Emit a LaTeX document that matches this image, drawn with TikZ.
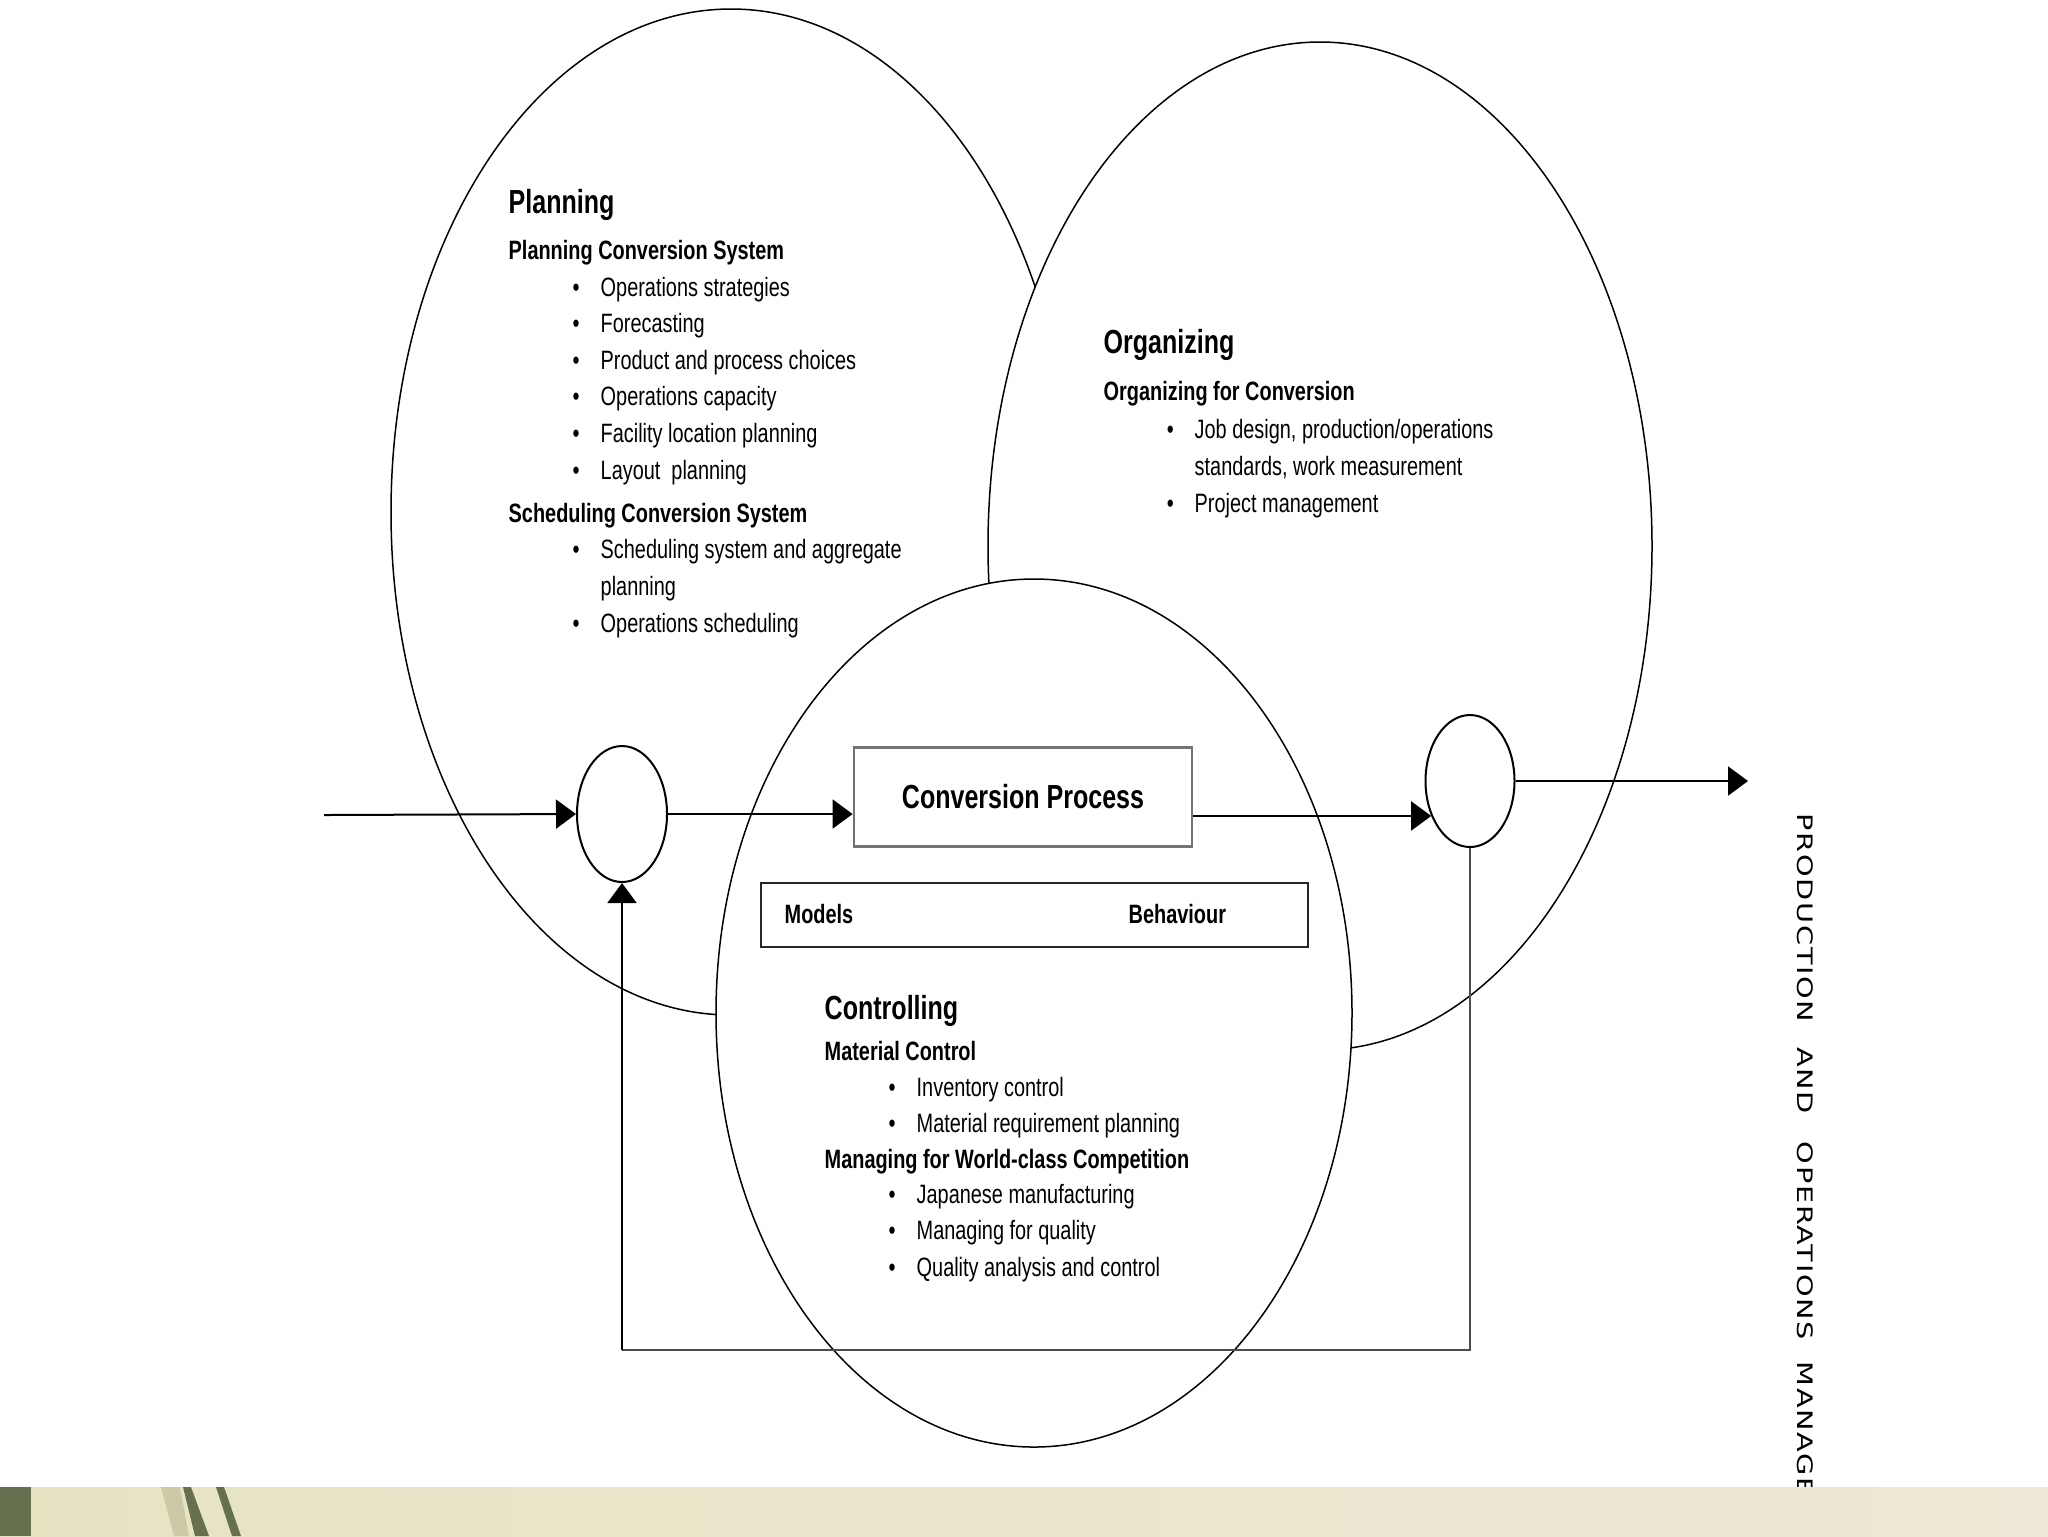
\documentclass[tikz,border=0pt]{standalone}
\usepackage{fontspec}
\setmainfont[FakeStretch=0.75]{Liberation Sans}
\newfontfamily\sidefont[FakeStretch=1.35,LetterSpace=8]{DejaVu Sans}
\usepackage{tikz}
\usetikzlibrary{arrows.meta}
\usetikzlibrary{shapes.geometric}
\usetikzlibrary{positioning}
\usetikzlibrary{calc}

\definecolor{bandleft}{HTML}{E6E3C3}
\definecolor{bandright}{HTML}{EEE9D6}
\definecolor{bandgreen}{HTML}{66704F}
\definecolor{bandpale}{HTML}{CCCAA6}

\newcommand{\bul}{\llap{\textbullet\hspace{2.1mm}}}

\begin{document}
\begin{tikzpicture}[x=0.1mm, y=-0.1mm,
      venn/.style ={draw=black, line width=0.15mm, fill=white},
      head/.style ={anchor=base west, inner sep=0, font=\fontsize{9.5pt}{11pt}\selectfont\bfseries},
      subhead/.style ={anchor=base west, inner sep=0, font=\fontsize{7.55pt}{10pt}\selectfont\bfseries},
      entry/.style ={anchor=base west, inner sep=0, font=\fontsize{7.55pt}{10pt}\selectfont},
      junction/.style ={ellipse, draw, line width=0.2mm, fill=white, inner sep=0},
      procbox/.style ={rectangle, draw=black!55, line width=0.28mm, fill=white, inner sep=0},
      flow/.style ={-{Triangle[length=2mm,width=2.9mm]}, line width=0.2mm},
      fback/.style ={draw=black!70, line width=0.17mm},
      sidetitle/.style ={rotate=-90, anchor=base west, inner sep=0, font=\sidefont\fontsize{6.06pt}{7pt}\selectfont}
    ]
    \useasboundingbox (0,0) rectangle (2048,1536);
    \fill[white] (0,0) rectangle (2048,1536);

    % the three areas
    \draw[venn] (731,512) ellipse [x radius=340, y radius=503];
    \draw[venn] (1320,546) ellipse [x radius=332, y radius=504];
    \draw[venn] (1034,1013) ellipse [x radius=318, y radius=434];

    % planning
    \node[head] (plan) at (508,213) {Planning};
    \node[subhead] (planconv) at (508,259) {Planning Conversion System};
    \foreach \y/\t [count=\i] in {296/Operations strategies, 332/Forecasting, 369/Product and process choices,
        405/Operations capacity, 442/Facility location planning, 479/{Layout\ \ planning}}
      \node[entry] (plan\i) at (600,\y) {\bul\t};
    \node[subhead] (schedconv) at (508,522) {Scheduling Conversion System};
    \node[entry] (sched1) at (600,558) {\bul Scheduling system and aggregate};
    \node[entry] (sched1b) at (600,595) {planning};
    \node[entry] (sched2) at (600,632) {\bul Operations scheduling};

    % organizing
    \node[head] (org) at (1103,353) {Organizing};
    \node[subhead] (orgconv) at (1103,400) {Organizing for Conversion};
    \node[entry] (org1) at (1194,438) {\bul Job design, production/operations};
    \node[entry] (org1b) at (1194,475) {standards, work measurement};
    \node[entry] (org2) at (1194,512) {\bul Project management};

    % controlling
    \node[head] (ctrl) at (824,1019) {Controlling};
    \node[subhead] (matctrl) at (824,1060) {Material Control};
    \node[entry] (mat1) at (916,1096) {\bul Inventory control};
    \node[entry] (mat2) at (916,1132) {\bul Material requirement planning};
    \node[subhead] (world) at (824,1168) {Managing for World-class Competition};
    \foreach \y/\t [count=\i] in {1203/Japanese manufacturing, 1239/Managing for quality, 1276/Quality analysis and control}
      \node[entry] (world\i) at (916,\y) {\bul\t};

    % conversion flow
    \node[junction, minimum width=9mm, minimum height=13.6mm] (sumL) at (622,814) {};
    \node[junction, minimum width=8.9mm, minimum height=13.2mm] (sumR) at (1470,781) {};
    \node[procbox, minimum width=33.8mm, minimum height=9.9mm, font=\fontsize{9.5pt}{11pt}\selectfont\bfseries] (conv) at (1023,797) {Conversion Process};
    \node[procbox, draw=black!85, minimum width=54.7mm, minimum height=6.4mm] (mb) at (1034.5,915) {};
    \node[subhead] (models) at (784,923) {Models};
    \node[subhead] (behav) at (1128,923) {Behaviour};

    \coordinate (in) at (324,815);
    \coordinate (out) at (1748,781);
    \coordinate (base) at (0,1350);
    \draw[flow] (in) -- (sumL.west);
    \draw[flow] (sumL.east) -- (sumL.east -| conv.west);
    \draw[flow] (conv.east |- sumR.222) -- (sumR.222);
    \draw[flow] (sumR.east) -- (sumR.east -| out);
    \draw[fback] (sumR.south) -- (sumR.south |- base) -- (sumL.south |- base);
    \draw[flow] (sumL.south |- base) -- (sumL.south);

    % slide title and footer band
    \node[sidetitle] (title) at (1797,813) {PRODUCTION\hspace{1.4mm} AND\hspace{1.7mm} OPERATIONS\hspace{1.1mm} MANAGE};
    \shade[left color=bandleft, right color=bandright] (0,1487) rectangle (2048,1536);
    \fill[bandgreen] (0,1487) rectangle (31,1536);
    \fill[bandpale] (161,1487) -- (180,1487) -- (189,1536) -- (174,1536) -- cycle;
    \fill[bandgreen] (183,1487) -- (191,1487) -- (209,1536) -- (195,1536) -- cycle;
    \fill[bandgreen] (216,1487) -- (224,1487) -- (241,1536) -- (232,1536) -- cycle;
  \end{tikzpicture}
\end{document}
